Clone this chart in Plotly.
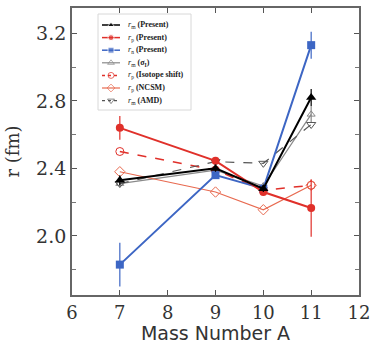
import plotly.graph_objects as go

A = [7, 9, 10, 11]
rm_present = [2.33, 2.40, 2.28, 2.82]
rm_present_err = [0.03, 0.02, 0.02, 0.05]
rp_present = [2.64, 2.445, 2.26, 2.165]
rp_present_err = [0.07, 0.02, 0.02, 0.17]
rn_present = [1.83, 2.36, 2.28, 3.13]
rn_present_err = [0.13, 0.02, 0.02, 0.08]
rm_sigma = [2.31, 2.39, 2.295, 2.72]
rm_sigma_err = [0.02, 0.02, 0.02, 0.05]
rp_iso = [2.50, 2.39, 2.27, 2.30]
rp_ncsm = [2.38, 2.26, 2.155, 2.30]
rm_amd = [2.31, 2.44, 2.43, 2.66]

x_ticks = [6, 7, 8, 9, 10, 11, 12]
y_ticks = [2.0, 2.4, 2.8, 3.2]
y_tick_text = ["2.0", "2.4", "2.8", "3.2"]

RED = "#e0302a"
RED_L = "#e86a50"
BLUE = "#3d66c4"
GRAY = "#8a8a8a"
DGRAY = "#555555"

# series definitions: (name sub, label, y, err, colour, width, dash, symbol, size)
series = [
    ("m", "(Present)", rm_present, rm_present_err, "black", 2, "solid", "triangle-up", 9),
    ("p", "(Present)", rp_present, rp_present_err, RED, 2, "solid", "circle", 8),
    ("n", "(Present)", rn_present, rn_present_err, BLUE, 2, "solid", "square", 8),
    ("m", "(σ<sub>I</sub>)", rm_sigma, rm_sigma_err, GRAY, 1.2, "solid", "triangle-up-open", 7),
    ("p", "(Isotope shift)", rp_iso, None, RED, 1.5, "dash", "circle-open", 8),
    ("p", "(NCSM)", rp_ncsm, None, RED_L, 1.2, "solid", "diamond-open", 8),
    ("m", "(AMD)", rm_amd, None, DGRAY, 1.2, "dash", "triangle-down-open", 8),
]
draw_order = [3, 4, 5, 6, 2, 1, 0]

fig = go.Figure()
for i in draw_order:
    sub, txt, ys, err, col, w, dash, sym, sz = series[i]
    tr = dict(x=A, y=ys, mode="lines+markers", showlegend=False,
              line=dict(color=col, width=w, dash=dash),
              marker=dict(symbol=sym, size=sz, color=col))
    if err is not None:
        tr["error_y"] = dict(type="data", array=err, color=col, thickness=1.2, width=0)
    fig.add_trace(go.Scatter(**tr))

# ---- compact hand-built legend (layout decoration, paper coordinates) ----
plot_l, plot_t, plot_w, plot_h = 72, 8, 287, 287
def px2paper_x(px):
    return (px - plot_l) / plot_w
def px2paper_y(py):
    return (plot_t + plot_h - py) / plot_h

leg_left, leg_top, leg_right, leg_bottom = 98, 14, 191, 110
row0, row_step = 25, 12.6
fig.add_shape(type="rect", xref="paper", yref="paper",
              x0=px2paper_x(leg_left), x1=px2paper_x(leg_right),
              y0=px2paper_y(leg_bottom), y1=px2paper_y(leg_top),
              line=dict(color="#d8d8d8", width=1), fillcolor="white", layer="below")
for k, (sub, txt, ys, err, col, w, dash, sym, sz) in enumerate(series):
    yy = px2paper_y(row0 + k * row_step)
    xs = [px2paper_x(102), px2paper_x(111), px2paper_x(120)]
    fig.add_trace(go.Scatter(x=xs, y=[yy] * 3, xaxis="x2", yaxis="y2", mode="lines+markers",
                             showlegend=False, hoverinfo="skip",
                             line=dict(color=col, width=min(w, 1.5), dash="dot" if dash == "dash" else "solid"),
                             marker=dict(symbol=sym, size=[0, 6, 0], color=col)))
    fig.add_annotation(xref="paper", yref="paper", x=px2paper_x(126), y=yy,
                       xanchor="left", yanchor="middle", showarrow=False,
                       text=f"<i>r</i><sub>{sub}</sub> <b>{txt}</b>",
                       font=dict(family="Liberation Serif", size=8, color="#222"))

fig.update_layout(
    width=371, height=347,
    margin=dict(l=72, r=12, t=8, b=52),
    paper_bgcolor="white", plot_bgcolor="white",
    showlegend=False,
    xaxis=dict(range=[6, 12], tickvals=x_ticks, ticktext=[str(v) for v in x_ticks],
               ticks="inside", ticklen=5, tickcolor="#555", mirror="ticks", automargin=False,
               ticklabeloverflow="allow",
               showline=True, linecolor="#666", linewidth=1.8, showgrid=False, zeroline=False,
               tickfont=dict(family="DejaVu Serif", size=18, color="#333"),
               title=dict(text="Mass Number A", standoff=0,
                          font=dict(family="DejaVu Sans", size=19, color="#333"))),
    yaxis=dict(range=[1.65, 3.35], tickvals=y_ticks, ticktext=y_tick_text,
               ticks="inside", ticklen=5, tickcolor="#555", mirror="ticks", automargin=False,
               minor=dict(dtick=0.2, ticks="inside", ticklen=4, tickcolor="#777"),
               showline=True, linecolor="#666", linewidth=1.8, showgrid=False, zeroline=False,
               tickfont=dict(family="DejaVu Serif", size=19, color="#333"),
               title=dict(text="r (fm)", standoff=12,
                          font=dict(family="DejaVu Serif", size=18, color="#333"))),
    xaxis2=dict(overlaying="x", range=[0, 1], visible=False, fixedrange=True),
    yaxis2=dict(overlaying="y", range=[0, 1], visible=False, fixedrange=True),
)

fig.write_html("out.html", config={"displayModeBar": False},
               post_script="document.body.style.margin='0';document.body.style.overflow='hidden';")
